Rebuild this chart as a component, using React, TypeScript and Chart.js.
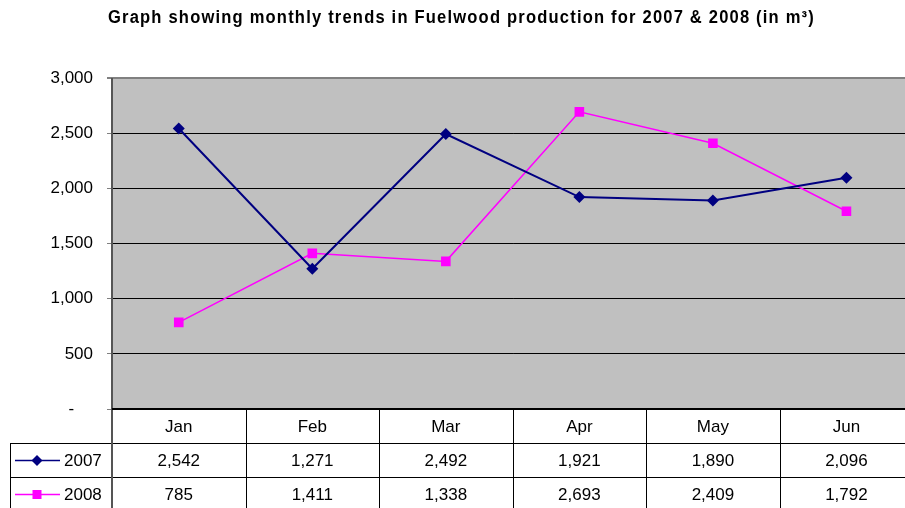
import React, { useEffect, useRef } from 'react';
import { Chart, registerables } from 'chart.js';

Chart.register(...registerables);

const months = ['Jan', 'Feb', 'Mar', 'Apr', 'May', 'Jun'];
const series2007 = [2542, 1271, 2492, 1921, 1890, 2096];
const series2008 = [785, 1411, 1338, 2693, 2409, 1792];
const seriesLabels = ['2007', '2008'];
const seriesColors = ['#000080', '#FF00FF'];
const yMin = 0;
const yMax = 3000;
const yStep = 500;
const titleText = 'Graph showing monthly trends in Fuelwood production for 2007 & 2008 (in m\u00B3)';

const FONT = '"Liberation Sans", Arial, sans-serif';
const fmt = (v: number) => (v === 0 ? '-\u2007\u2007' : v.toLocaleString('en-US'));

const excelPlugin = {
  id: 'excelLook',
  beforeDraw(chart: any) {
    const { ctx, chartArea: a } = chart;
    ctx.save();
    ctx.fillStyle = '#ffffff';
    ctx.fillRect(0, 0, chart.width, chart.height);
    ctx.fillStyle = '#C0C0C0';
    ctx.fillRect(a.left, a.top, a.right - a.left, a.bottom - a.top);
    ctx.restore();
  },
  afterDraw(chart: any) {
    const { ctx, chartArea: a } = chart;
    const xs = chart.scales.x;
    const step = xs.getPixelForValue(1) - xs.getPixelForValue(0);
    const rowH = 34;
    const top = a.bottom;
    const legendLeft = 10;
    const W = chart.width;
    const H = chart.height;
    ctx.save();

    // title (condensed bold, fitted to the reference width)
    ctx.font = 'bold 18px ' + FONT;
    ctx.fillStyle = '#000';
    ctx.textAlign = 'left';
    ctx.textBaseline = 'alphabetic';
    const targetW = 707;
    const ls = 1.3;
    (ctx as any).letterSpacing = ls + 'px';
    const w0 = ctx.measureText(titleText).width;
    const sx = targetW / w0;
    ctx.save();
    ctx.translate(108, 23);
    ctx.scale(sx, 1);
    ctx.fillText(titleText, 0, 0);
    ctx.restore();
    (ctx as any).letterSpacing = '0px';

    // table lines
    ctx.strokeStyle = '#000';
    ctx.lineWidth = 1;
    for (let r = 1; r <= 3; r++) {
      const y = Math.round(top + r * rowH) + 0.5;
      ctx.beginPath();
      ctx.moveTo(legendLeft, y);
      ctx.lineTo(W, y);
      ctx.stroke();
    }
    for (let i = 1; i <= months.length; i++) {
      const bx = Math.round(xs.getPixelForValue(i) - step / 2) + 0.5;
      ctx.beginPath();
      ctx.moveTo(bx, top);
      ctx.lineTo(bx, H);
      ctx.stroke();
    }
    ctx.beginPath();
    ctx.moveTo(legendLeft + 0.5, top + rowH);
    ctx.lineTo(legendLeft + 0.5, H);
    ctx.stroke();

    // left axis line through the table
    ctx.strokeStyle = '#555';
    ctx.lineWidth = 2;
    ctx.beginPath();
    ctx.moveTo(a.left, a.top);
    ctx.lineTo(a.left, H);
    ctx.stroke();

    // thick top line of table
    ctx.strokeStyle = '#000';
    ctx.lineWidth = 2;
    ctx.beginPath();
    ctx.moveTo(a.left, top);
    ctx.lineTo(W, top);
    ctx.stroke();

    // text
    ctx.font = '17px ' + FONT;
    ctx.fillStyle = '#000';
    ctx.textAlign = 'center';
    ctx.textBaseline = 'middle';
    const allSeries = [series2007, series2008];
    months.forEach((m, i) => {
      const cx = xs.getPixelForValue(i);
      ctx.fillText(m, cx, top + rowH / 2 + 1);
      allSeries.forEach((s, r) => {
        ctx.fillText(s[i].toLocaleString('en-US'), cx, top + rowH * (r + 1) + rowH / 2 + 1);
      });
    });

    // legend keys
    seriesLabels.forEach((lab, r) => {
      const cy = Math.round(top + rowH * (r + 1) + rowH / 2) + 0.5;
      ctx.strokeStyle = seriesColors[r];
      ctx.lineWidth = 1.5;
      ctx.beginPath();
      ctx.moveTo(15, cy);
      ctx.lineTo(60, cy);
      ctx.stroke();
      ctx.fillStyle = seriesColors[r];
      ctx.beginPath();
      if (r === 0) {
        ctx.moveTo(37, cy - 5.5);
        ctx.lineTo(42.5, cy);
        ctx.lineTo(37, cy + 5.5);
        ctx.lineTo(31.5, cy);
        ctx.closePath();
      } else {
        ctx.rect(32.5, cy - 4.5, 9, 9);
      }
      ctx.fill();
      ctx.fillStyle = '#000';
      ctx.textAlign = 'left';
      ctx.fillText(lab, 64, cy + 1);
    });

    ctx.restore();
  },
};

export default function App() {
  const ref = useRef<HTMLCanvasElement | null>(null);
  useEffect(() => {
    const canvas = ref.current;
    if (!canvas) return;
    const chart = new Chart(canvas, {
      type: 'line',
      data: {
        labels: months,
        datasets: [
          {
            label: seriesLabels[0],
            data: series2007,
            borderColor: seriesColors[0],
            backgroundColor: seriesColors[0],
            borderWidth: 2,
            pointStyle: 'rectRot',
            pointRadius: 6,
            pointBorderWidth: 0,
            pointBackgroundColor: seriesColors[0],
            tension: 0,
          },
          {
            label: seriesLabels[1],
            data: series2008,
            borderColor: seriesColors[1],
            backgroundColor: seriesColors[1],
            borderWidth: 1.5,
            pointStyle: 'rect',
            pointRadius: 6.8,
            pointBorderWidth: 0,
            pointBackgroundColor: seriesColors[1],
            tension: 0,
          },
        ],
      },
      options: {
        responsive: false,
        animation: false,
        devicePixelRatio: 1,
        layout: { padding: { left: 0, top: 78, right: 2, bottom: 121 } },
        plugins: {
          legend: { display: false },
          title: { display: false },
          tooltip: { enabled: false },
        },
        scales: {
          x: {
            type: 'category',
            display: false,
            offset: true,
          },
          y: {
            min: yMin,
            max: yMax,
            afterFit: (scale: any) => {
              scale.width = 112;
            },
            ticks: {
              stepSize: yStep,
              font: { family: FONT, size: 17 },
              color: '#000',
              padding: 14,
              callback: (v: any) => fmt(Number(v)),
            },
            grid: {
              color: (c: any) => (c.tick && c.tick.value === yMax ? '#808080' : '#000'),
              lineWidth: (c: any) => (c.tick && c.tick.value === yMax ? 2 : 1),
              tickColor: '#808080',
              tickLength: 5,
            },
            border: { display: true, color: '#808080', width: 2 },
          },
        },
      },
      plugins: [excelPlugin],
    });
    return () => chart.destroy();
  }, []);
  return (
    <div style={{ position: 'fixed', left: 0, top: 0, width: 905, height: 508, overflow: 'hidden', background: '#fff' }}>
      <canvas ref={ref} width={920} height={530} style={{ width: 920, height: 530, display: 'block' }} />
    </div>
  );
}
